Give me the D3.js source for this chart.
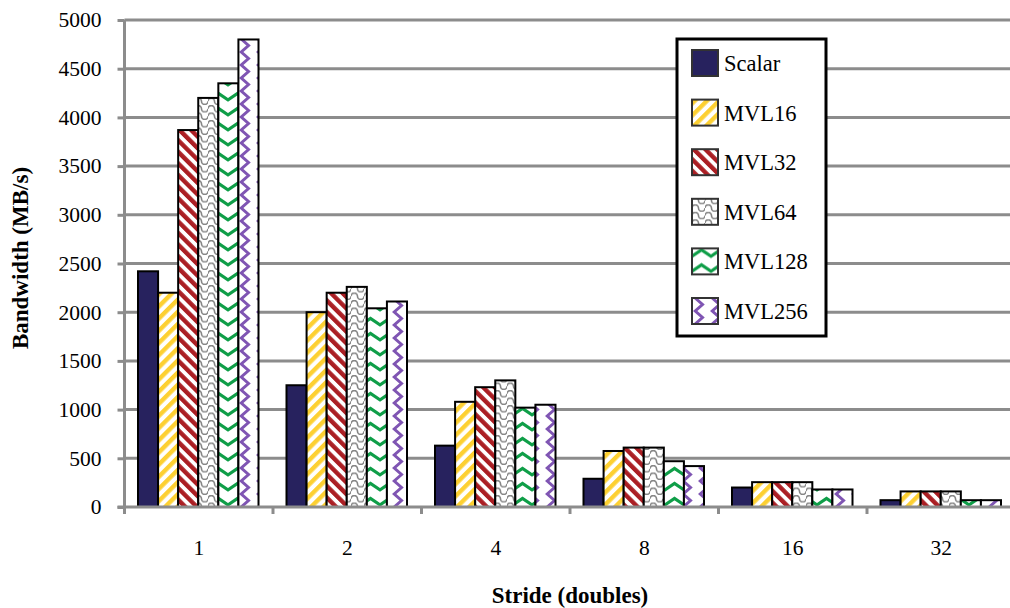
<!DOCTYPE html>
<html>
<head>
<meta charset="utf-8">
<script src="https://cdn.jsdelivr.net/npm/d3@7"></script>
<style>
  html, body { margin: 0; padding: 0; background: #fff; }
  svg { display: block; }
  text { font-family: "Liberation Serif", "Times New Roman", serif; fill: #000; }
</style>
</head>
<body>
<svg id="chart" width="1010" height="608"></svg>
<script>
// Memory bandwidth by stride, for scalar code and each maximum vector length
const categories = ["1", "2", "4", "8", "16", "32"];
const seriesNames = ["Scalar", "MVL16", "MVL32", "MVL64", "MVL128", "MVL256"];
const scalar = [2420, 1250, 630, 290, 200, 70];
const mvl16  = [2200, 2000, 1080, 575, 255, 160];
const mvl32  = [3870, 2200, 1230, 610, 255, 160];
const mvl64  = [4200, 2260, 1300, 610, 255, 160];
const mvl128 = [4350, 2040, 1020, 470, 180, 70];
const mvl256 = [4800, 2110, 1050, 420, 180, 70];
const yTicks = [0, 500, 1000, 1500, 2000, 2500, 3000, 3500, 4000, 4500, 5000];

const seriesValues = [scalar, mvl16, mvl32, mvl64, mvl128, mvl256];

const svg = d3.select("#chart");
const gridColor = "#8c8c8c";
const serif = "'Liberation Serif', 'Times New Roman', serif";

const plotLeft = 124.5, bandW = 148.5, plotTop = 20, plotBottom = 507;
const x0 = d3.scaleBand().domain(categories).range([plotLeft, plotLeft + bandW * categories.length]);
const x1 = d3.scaleBand().domain(seriesNames).range([13.5, 134]);
const y = d3.scaleLinear().domain([0, 5000]).range([plotBottom, plotTop]);

// ---- fill patterns ----
const defs = svg.append("defs");

// yellow "/" stripes
const p16 = defs.append("pattern").attr("id", "f-mvl16").attr("patternUnits", "userSpaceOnUse")
  .attr("width", 8.6).attr("height", 8.6).attr("patternTransform", "rotate(45)");
p16.append("rect").attr("width", 8.6).attr("height", 8.6).attr("fill", "#fff");
p16.append("rect").attr("width", 4.4).attr("height", 8.6).attr("fill", "#fdd032");

// red "\" stripes
const p32 = defs.append("pattern").attr("id", "f-mvl32").attr("patternUnits", "userSpaceOnUse")
  .attr("width", 8.2).attr("height", 8.2).attr("patternTransform", "rotate(-45)");
p32.append("rect").attr("width", 8.2).attr("height", 8.2).attr("fill", "#fff");
p32.append("rect").attr("width", 4.4).attr("height", 8.2).attr("fill", "#ab1f24");

// grey waves
const p64 = defs.append("pattern").attr("id", "f-mvl64").attr("patternUnits", "userSpaceOnUse")
  .attr("width", 13).attr("height", 7.5);
p64.append("rect").attr("width", 13).attr("height", 7.5).attr("fill", "#fff");
p64.append("path").attr("d", "M0,3.75 A3.25,3.25 0 0 1 6.5,3.75 A3.25,3.25 0 0 0 13,3.75")
  .attr("fill", "none").attr("stroke", "#858585").attr("stroke-width", 1.6);

// green zigzag (horizontal)
const p128 = defs.append("pattern").attr("id", "f-mvl128").attr("patternUnits", "userSpaceOnUse")
  .attr("width", 19).attr("height", 15);
p128.append("rect").attr("width", 19).attr("height", 15).attr("fill", "#fff");
p128.append("path").attr("d", "M-1,10.5 L9.5,3.5 L20,10.5")
  .attr("fill", "none").attr("stroke", "#0f9e48").attr("stroke-width", 3.2);

// purple zigzag (vertical)
const p256 = defs.append("pattern").attr("id", "f-mvl256").attr("patternUnits", "userSpaceOnUse")
  .attr("width", 17).attr("height", 13);
p256.append("rect").attr("width", 17).attr("height", 13).attr("fill", "#fff");
p256.append("path").attr("d", "M2,-1 L10.5,6.5 L2,14")
  .attr("fill", "none").attr("stroke", "#7f55b3").attr("stroke-width", 3);

const fills = ["#27225e", "url(#f-mvl16)", "url(#f-mvl32)", "url(#f-mvl64)", "url(#f-mvl128)", "url(#f-mvl256)"];

// ---- gridlines ----
const xEnd = plotLeft + bandW * categories.length;
svg.append("g").selectAll("line").data(yTicks.filter(d => d > 0)).join("line")
  .attr("x1", plotLeft).attr("x2", xEnd)
  .attr("y1", d => y(d)).attr("y2", d => y(d))
  .attr("stroke", gridColor).attr("stroke-width", 3);

// ---- bars ----
const rows = [];
categories.forEach((c, ci) => {
  seriesNames.forEach((s, si) => rows.push({ cat: c, series: s, si, value: seriesValues[si][ci] }));
});
svg.append("g").selectAll("rect").data(rows).join("rect")
  .attr("x", d => x0(d.cat) + x1(d.series))
  .attr("y", d => y(d.value))
  .attr("width", x1.bandwidth())
  .attr("height", d => y(0) - y(d.value))
  .attr("fill", d => fills[d.si])
  .attr("stroke", "#000").attr("stroke-width", 2);

// ---- axes ----
const yAxis = svg.append("g").attr("transform", `translate(${plotLeft},0)`)
  .call(d3.axisLeft(y).tickValues(yTicks).tickSize(7).tickPadding(16).tickFormat(d3.format("d")));
yAxis.attr("font-family", serif);
yAxis.select(".domain").attr("stroke", gridColor).attr("stroke-width", 3)
  .attr("d", `M0,${plotTop}V${plotBottom + 7}`);
yAxis.selectAll(".tick line").attr("stroke", gridColor).attr("stroke-width", 3);
yAxis.selectAll(".tick text").style("font-size", "21.5px").attr("fill", "#000");

const xAxis = svg.append("g").attr("transform", `translate(0,${plotBottom})`)
  .call(d3.axisBottom(x0).tickSize(0).tickPadding(33));
xAxis.attr("font-family", serif);
xAxis.select(".domain").attr("stroke", gridColor).attr("stroke-width", 3)
  .attr("d", `M${plotLeft - 7},0H${xEnd}`);
xAxis.selectAll(".tick text").style("font-size", "21.5px").attr("fill", "#000");
// tick marks on band boundaries
svg.append("g").selectAll("line").data(categories).join("line")
  .attr("x1", d => x0(d) + bandW).attr("x2", d => x0(d) + bandW)
  .attr("y1", plotBottom).attr("y2", plotBottom + 7)
  .attr("stroke", gridColor).attr("stroke-width", 3);

// ---- axis titles ----
svg.append("text").attr("x", 570).attr("y", 603).attr("text-anchor", "middle")
  .style("font-size", "23px").style("font-weight", "bold").text("Stride (doubles)");
svg.append("text").attr("transform", "translate(28,258) rotate(-90)").attr("text-anchor", "middle")
  .style("font-size", "23px").style("font-weight", "bold").text("Bandwidth (MB/s)");

// ---- legend ----
const lg = svg.append("g");
lg.append("rect").attr("x", 677).attr("y", 39).attr("width", 149).attr("height", 297)
  .attr("fill", "#fff").attr("stroke", "#000").attr("stroke-width", 3);
const items = lg.selectAll("g.item").data(seriesNames).join("g").attr("class", "item")
  .attr("transform", (d, i) => `translate(692,${63 + i * 49.6})`);
items.append("rect").attr("x", 0).attr("y", -13).attr("width", 26).attr("height", 26)
  .attr("fill", (d, i) => fills[i]).attr("stroke", "#333").attr("stroke-width", 2);
items.append("text").attr("x", 32).attr("y", 8).style("font-size", "22.5px").text(d => d);
</script>
</body>
</html>
